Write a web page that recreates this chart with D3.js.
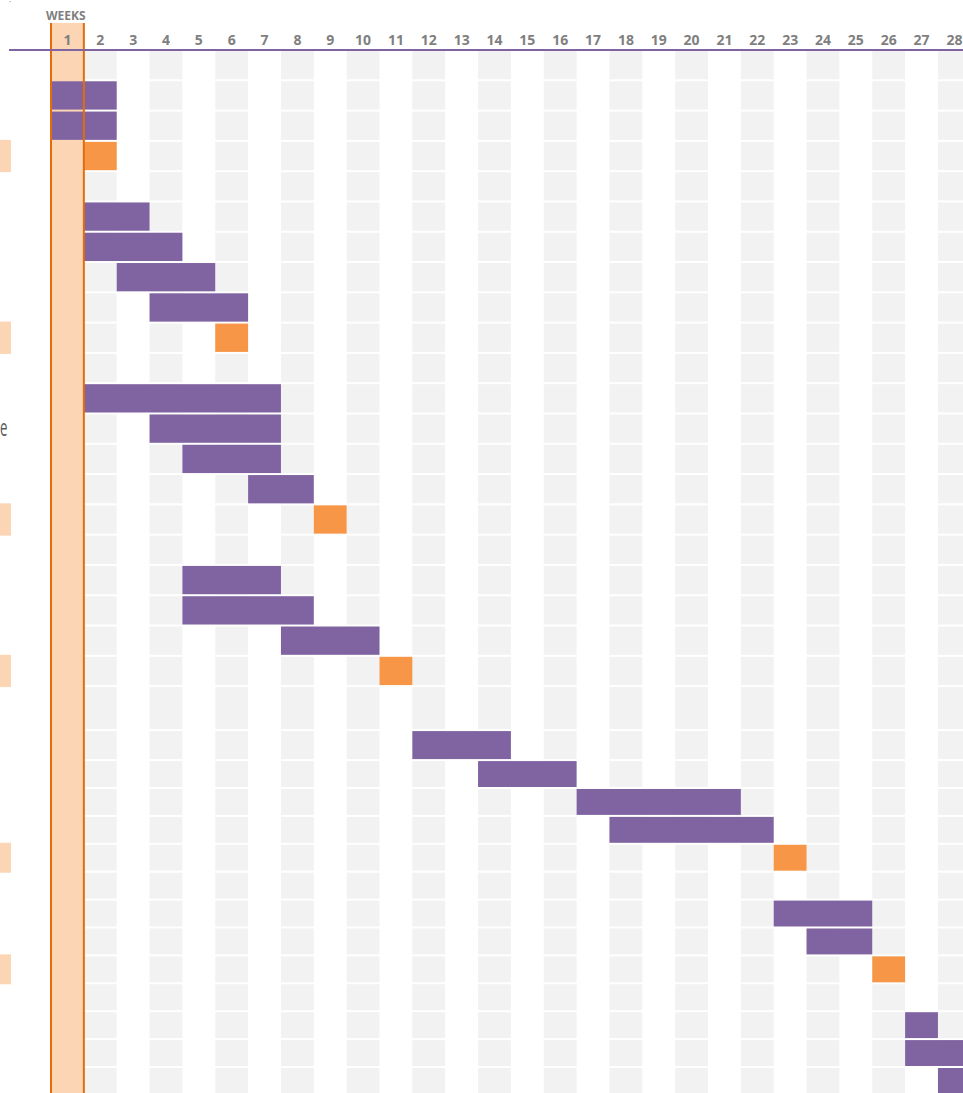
<!DOCTYPE html>
<html>
<head>
<meta charset="utf-8">
<script src="https://cdn.jsdelivr.net/npm/d3@7"></script>
<style>
  html, body { margin: 0; padding: 0; background: #ffffff; }
  svg { display: block; }
</style>
</head>
<body>
<div id="chart"></div>
<script>
// ---------------- DATA ----------------
const weekLabels = [1,2,3,4,5,6,7,8,9,10,11,12,13,14,15,16,17,18,19,20,21,22,23,24,25,26,27,28];
const rowIds = d3.range(0, 35);            // spreadsheet rows of the plan
const currentWeek = 1;

// task bars: row, first week, number of weeks
const barRow   = [1, 2, 5, 6, 7, 8, 11, 12, 13, 14, 17, 18, 19, 22, 23, 24, 25, 28, 29, 32, 33, 34];
const barStart = [1, 1, 2, 2, 3, 4,  2,  4,  5,  7,  5,  5,  8, 12, 14, 17, 18, 23, 24, 27, 27, 28];
const barWeeks = [2, 2, 2, 3, 3, 3,  6,  4,  3,  2,  3,  4,  3,  3,  3,  5,  5,  3,  2,  1,  2,  1];

// milestones: row, week
const milestoneRow  = [3, 9, 15, 20, 26, 30];
const milestoneWeek = [2, 6,  9, 11, 23, 26];

// ---------------- LAYOUT ----------------
const W = 963, H = 1093;
const colors = {
  bar: "#8064a2", milestone: "#f79646", peach: "#fcd5b4",
  orange: "#e46c0a", gray: "#f2f2f2", header: "#7f7f7f", axis: "#8064a2"
};
// row pitch (spreadsheet row heights)
const rowPitch = rowIds.map(i => i <= 20 ? 30.29 : (i === 21 ? 44 : (i === 22 ? 30 : 27.9)));
const rowTop = [];
rowPitch.reduce((acc, p, i) => { rowTop[i] = acc; return acc + p; }, 51);

const x = d3.scaleLinear().domain([1, 29]).range([51, 51 + 28 * 32.85]);
const yTop = d3.scaleOrdinal().domain(rowIds).range(rowTop);
const yH = d3.scaleOrdinal().domain(rowIds).range(rowPitch.map(p => p - 2));

const svg = d3.select("#chart").append("svg").attr("width", W).attr("height", H);

// tiny mark top-left
svg.append("rect").attr("x", 9).attr("y", 1).attr("width", 2).attr("height", 1).attr("fill", "#c8c8c8");

// gray cells in even week columns
const evenWeeks = weekLabels.filter(w => w % 2 === 0);
const cells = [];
evenWeeks.forEach(w => rowIds.forEach(r => cells.push({ w, r })));
svg.append("g").selectAll("rect").data(cells).join("rect")
  .attr("x", d => x(d.w))
  .attr("y", d => yTop(d.r))
  .attr("width", d => x(d.w + 1) - x(d.w))
  .attr("height", d => yH(d.r))
  .attr("fill", colors.gray);

// current week column
svg.append("rect")
  .attr("x", x(currentWeek)).attr("y", 23)
  .attr("width", x(currentWeek + 1) - x(currentWeek)).attr("height", H - 23)
  .attr("fill", colors.peach);

// milestone row markers on left edge
svg.append("g").selectAll("rect").data(milestoneRow).join("rect")
  .attr("x", 0).attr("y", d => yTop(d) - 2)
  .attr("width", 11).attr("height", d => yH(d) + 4)
  .attr("fill", colors.peach);

// task bars
const bars = barRow.map((r, i) => ({ r, s: barStart[i], n: barWeeks[i] }));
svg.append("g").selectAll("rect").data(bars).join("rect")
  .attr("x", d => x(d.s))
  .attr("y", d => yTop(d.r))
  .attr("width", d => x(d.s + d.n) - x(d.s))
  .attr("height", d => yH(d.r))
  .attr("fill", colors.bar);

// milestones
const ms = milestoneRow.map((r, i) => ({ r, w: milestoneWeek[i] }));
svg.append("g").selectAll("rect").data(ms).join("rect")
  .attr("x", d => x(d.w))
  .attr("y", d => yTop(d.r))
  .attr("width", d => x(d.w + 1) - x(d.w))
  .attr("height", d => yH(d.r))
  .attr("fill", colors.milestone);

// current week borders
[currentWeek, currentWeek + 1].forEach(w => {
  svg.append("line")
    .attr("x1", x(w)).attr("x2", x(w))
    .attr("y1", 23).attr("y2", H)
    .attr("stroke", colors.orange).attr("stroke-width", 2);
});

// header axis
const axis = d3.axisTop(x).tickValues(weekLabels).tickSize(0).tickPadding(0)
  .tickFormat(d => d);
const gAxis = svg.append("g").attr("transform", "translate(0,50)");
gAxis.call(axis);
gAxis.select(".domain").remove();
gAxis.selectAll(".tick").attr("transform", d => `translate(${(x(d) + x(d + 1)) / 2},0)`);
gAxis.selectAll(".tick text")
  .attr("y", -5).attr("dy", 0)
  .attr("fill", colors.header)
  .style("font-family", "'Open Sans', sans-serif")
  .style("font-size", "14px").style("font-weight", "bold");

svg.append("line").attr("x1", 9).attr("x2", W).attr("y1", 50).attr("y2", 50)
  .attr("stroke", colors.axis).attr("stroke-width", 2);

svg.append("text").attr("x", 46).attr("y", 20)
  .attr("fill", colors.header)
  .style("font-family", "'Open Sans', sans-serif")
  .style("font-size", "12px").style("font-weight", "bold")
  .text("WEEKS");

// task label fragment at left edge
svg.append("text")
  .attr("transform", "translate(0,436) scale(0.55,1)")
  .attr("fill", "#595959")
  .style("font-family", "'Open Sans', sans-serif")
  .style("font-size", "24px")
  .text("e");
</script>
</body>
</html>
